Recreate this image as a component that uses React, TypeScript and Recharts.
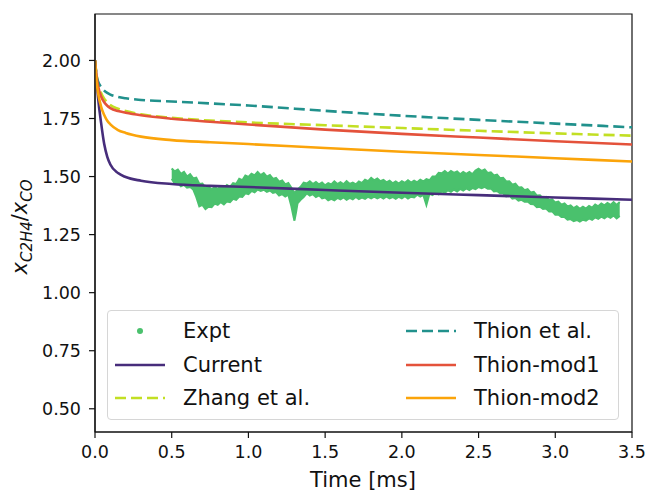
import React from "react";
import { ComposedChart, Line, Area, XAxis, YAxis, ReferenceArea } from "recharts";

// model curves share one time grid (ms)
const modelTime = [0, 0.01, 0.02, 0.04, 0.06, 0.08, 0.1, 0.15, 0.2, 0.3, 0.5, 0.75, 1.0, 1.5, 2.0, 2.5, 3.0, 3.5];
const current = [2.0, 1.92, 1.84, 1.73, 1.64, 1.585, 1.552, 1.515, 1.498, 1.482, 1.468, 1.46, 1.455, 1.442, 1.43, 1.42, 1.41, 1.4];
const zhang = [2.0, 1.94, 1.9, 1.86, 1.835, 1.82, 1.808, 1.792, 1.782, 1.768, 1.753, 1.741, 1.733, 1.721, 1.709, 1.697, 1.686, 1.676];
const thion = [2.0, 1.935, 1.91, 1.885, 1.87, 1.86, 1.853, 1.843, 1.837, 1.83, 1.823, 1.815, 1.806, 1.783, 1.762, 1.744, 1.728, 1.712];
const thionMod1 = [2.0, 1.93, 1.89, 1.845, 1.82, 1.805, 1.795, 1.782, 1.775, 1.764, 1.749, 1.736, 1.724, 1.702, 1.684, 1.668, 1.652, 1.638];
const thionMod2 = [2.0, 1.91, 1.86, 1.8, 1.765, 1.74, 1.725, 1.7, 1.688, 1.672, 1.657, 1.648, 1.64, 1.623, 1.607, 1.593, 1.579, 1.565];

const exptTime = [
  0.5, 0.52, 0.54, 0.56, 0.58, 0.6, 0.62, 0.64, 0.66, 0.68, 0.7, 0.72, 0.74, 0.76, 0.78, 0.8, 0.82, 0.84, 0.86, 0.88,
  0.9, 0.92, 0.94, 0.96, 0.98, 1.0, 1.02, 1.04, 1.06, 1.08, 1.1, 1.12, 1.14, 1.16, 1.18, 1.2, 1.22, 1.24, 1.26, 1.28,
  1.29, 1.3, 1.31, 1.32, 1.34, 1.36, 1.38, 1.4, 1.42, 1.44, 1.46, 1.48, 1.5, 1.52, 1.54, 1.56, 1.58, 1.6, 1.62, 1.64,
  1.66, 1.68, 1.7, 1.72, 1.74, 1.76, 1.78, 1.8, 1.82, 1.84, 1.86, 1.88, 1.9, 1.92, 1.94, 1.96, 1.98, 2.0, 2.02, 2.04,
  2.06, 2.08, 2.1, 2.12, 2.14, 2.16, 2.18, 2.2, 2.22, 2.24, 2.26, 2.28, 2.3, 2.32, 2.34, 2.36, 2.38, 2.4, 2.42, 2.44,
  2.46, 2.48, 2.5, 2.52, 2.54, 2.56, 2.58, 2.6, 2.62, 2.64, 2.66, 2.68, 2.7, 2.72, 2.74, 2.76, 2.78, 2.8, 2.82, 2.84,
  2.86, 2.88, 2.9, 2.92, 2.94, 2.96, 2.98, 3.0, 3.02, 3.04, 3.06, 3.08, 3.1, 3.12, 3.14, 3.16, 3.18, 3.2, 3.22, 3.24,
  3.26, 3.28, 3.3, 3.32, 3.34, 3.36, 3.38, 3.4, 3.42,
];
const exptHigh = [
  1.535, 1.522, 1.53, 1.512, 1.52, 1.5, 1.51, 1.492, 1.495, 1.468, 1.47, 1.45, 1.456, 1.444, 1.455, 1.446, 1.458, 1.45, 1.464, 1.456,
  1.472, 1.468, 1.49, 1.484, 1.504, 1.498, 1.512, 1.505, 1.52, 1.506, 1.515, 1.5, 1.507, 1.49, 1.494, 1.478, 1.483, 1.466, 1.472, 1.452,
  1.44, 1.43, 1.436, 1.445, 1.456, 1.474, 1.47, 1.48, 1.468, 1.477, 1.466, 1.474, 1.462, 1.472, 1.466, 1.479, 1.468, 1.476, 1.467, 1.48,
  1.468, 1.474, 1.466, 1.479, 1.472, 1.486, 1.48, 1.494, 1.484, 1.492, 1.48, 1.486, 1.475, 1.482, 1.471, 1.479, 1.47, 1.48, 1.473, 1.484,
  1.474, 1.482, 1.475, 1.486, 1.479, 1.489, 1.484, 1.5, 1.5, 1.516, 1.514, 1.524, 1.513, 1.524, 1.516, 1.522, 1.51, 1.52, 1.512, 1.52,
  1.51, 1.526, 1.534, 1.524, 1.53, 1.515, 1.518, 1.505, 1.508, 1.493, 1.495, 1.479, 1.48, 1.465, 1.469, 1.453, 1.454, 1.441, 1.446, 1.431,
  1.434, 1.418, 1.419, 1.406, 1.412, 1.398, 1.402, 1.388, 1.392, 1.379, 1.384, 1.371, 1.376, 1.364, 1.372, 1.361, 1.37, 1.362, 1.373, 1.366,
  1.38, 1.372, 1.384, 1.376, 1.386, 1.378, 1.39, 1.378, 1.39,
];
const exptLow = [
  1.49, 1.47, 1.472, 1.458, 1.464, 1.452, 1.455, 1.445, 1.412, 1.372, 1.378, 1.36, 1.37, 1.368, 1.384, 1.378, 1.39, 1.38, 1.393, 1.39,
  1.404, 1.4, 1.414, 1.412, 1.428, 1.424, 1.438, 1.432, 1.444, 1.438, 1.443, 1.434, 1.44, 1.43, 1.433, 1.418, 1.424, 1.414, 1.422, 1.372,
  1.34, 1.31, 1.345, 1.385, 1.4, 1.412, 1.428, 1.418, 1.424, 1.412, 1.419, 1.406, 1.41, 1.398, 1.404, 1.398, 1.408, 1.402, 1.41, 1.4,
  1.408, 1.402, 1.412, 1.403, 1.409, 1.404, 1.413, 1.406, 1.414, 1.406, 1.413, 1.405, 1.414, 1.406, 1.412, 1.404, 1.413, 1.406, 1.415, 1.405,
  1.413, 1.41, 1.422, 1.414, 1.421, 1.378, 1.426, 1.42, 1.43, 1.424, 1.436, 1.43, 1.441, 1.434, 1.444, 1.436, 1.447, 1.44, 1.449, 1.442,
  1.45, 1.446, 1.455, 1.45, 1.456, 1.448, 1.449, 1.436, 1.438, 1.428, 1.428, 1.415, 1.418, 1.405, 1.408, 1.396, 1.4, 1.392, 1.393, 1.382,
  1.381, 1.368, 1.37, 1.36, 1.362, 1.35, 1.35, 1.336, 1.337, 1.326, 1.326, 1.314, 1.317, 1.308, 1.313, 1.306, 1.314, 1.31, 1.32, 1.314,
  1.324, 1.318, 1.327, 1.32, 1.33, 1.322, 1.332, 1.32, 1.33,
];

const xTicks = [0, 0.5, 1.0, 1.5, 2.0, 2.5, 3.0, 3.5];
const yTicks = [0.5, 0.75, 1.0, 1.25, 1.5, 1.75, 2.0];

const C = {
  expt: "#4ac16d",
  current: "#472d7b",
  zhang: "#c2df23",
  thion: "#21918c",
  mod1: "#e4523b",
  mod2: "#fba40a",
};

const modelRows = modelTime.map((t, i) => ({
  t,
  current: current[i],
  zhang: zhang[i],
  thion: thion[i],
  mod1: thionMod1[i],
  mod2: thionMod2[i],
}));
const exptRows = exptTime.map((t, i) => ({ t, band: [exptLow[i], exptHigh[i]] }));

const FONT = "'DejaVu Sans', sans-serif";
const tickStyle = { fontSize: 17.5, fill: "#111", fontFamily: FONT };

const legendItems = [
  { name: "Expt", kind: "dot", color: C.expt, col: 0, row: 0 },
  { name: "Current", kind: "line", color: C.current, col: 0, row: 1 },
  { name: "Zhang et al.", kind: "dash", color: C.zhang, col: 0, row: 2 },
  { name: "Thion et al.", kind: "dash", color: C.thion, col: 1, row: 0 },
  { name: "Thion-mod1", kind: "line", color: C.mod1, col: 1, row: 1 },
  { name: "Thion-mod2", kind: "line", color: C.mod2, col: 1, row: 2 },
];

function Legend() {
  return (
    <div
      style={{
        position: "absolute", left: 107, top: 310, width: 512, height: 110,
        border: "1px solid #d6d6d6", borderRadius: 4, background: "rgba(255,255,255,0.8)",
        boxSizing: "border-box", fontFamily: FONT, fontSize: 21, color: "#111",
      }}
    >
      {legendItems.map((it) => {
        const left = it.col === 0 ? 7 : 298;
        const cy = 20 + it.row * 33.5;
        return (
          <div key={it.name} style={{ position: "absolute", left, top: cy - 14, height: 28, display: "flex", alignItems: "center" }}>
            <svg width={50} height={28} style={{ marginRight: 18 }}>
              {it.kind === "dot" && <circle cx={25} cy={14} r={3} fill={it.color} />}
              {it.kind === "line" && <line x1={0} x2={50} y1={14} y2={14} stroke={it.color} strokeWidth={2.6} />}
              {it.kind === "dash" && (
                <line x1={0} x2={50} y1={14} y2={14} stroke={it.color} strokeWidth={2.6} strokeDasharray="11 5" />
              )}
            </svg>
            <span style={{ whiteSpace: "nowrap" }}>{it.name}</span>
          </div>
        );
      })}
    </div>
  );
}

export default function App() {
  return (
    <div style={{ position: "absolute", left: 0, top: 0, width: 647, height: 493, background: "#fff" }}>
      <ComposedChart width={647} height={493} data={modelRows} margin={{ top: 14, right: 15, bottom: 0, left: 0 }}>
        <XAxis
          dataKey="t" type="number" domain={[0, 3.5]} ticks={xTicks} allowDataOverflow
          tickFormatter={(v: number) => v.toFixed(1)} tick={tickStyle}
          height={61} tickSize={6} tickMargin={8}
          stroke="#111" axisLine={{ stroke: "#111", strokeWidth: 1.2 }} tickLine={{ stroke: "#111", strokeWidth: 1.2 }}
          label={{
            content: () => (
              <text x={363} y={487} textAnchor="middle" fontSize={21} fontFamily={FONT} fill="#111">Time [ms]</text>
            ),
          }}
        />
        <YAxis
          type="number" domain={[0.4, 2.2]} ticks={yTicks} allowDataOverflow
          tickFormatter={(v: number) => v.toFixed(2)} tick={tickStyle}
          width={95} tickSize={6} tickMargin={8}
          stroke="#111" axisLine={{ stroke: "#111", strokeWidth: 1.2 }} tickLine={{ stroke: "#111", strokeWidth: 1.2 }}
          label={{
            content: () => (
              <text x={27} y={227} transform="rotate(-90 27 227)" textAnchor="middle" fontSize={21} fontFamily={FONT} fill="#111">
                <tspan fontStyle="italic">x</tspan>
                <tspan fontStyle="italic" fontSize={15} dy={5}>C2H4</tspan>
                <tspan dy={-5}>/</tspan>
                <tspan fontStyle="italic">x</tspan>
                <tspan fontStyle="italic" fontSize={15} dy={5}>CO</tspan>
              </text>
            ),
          }}
        />
        <ReferenceArea x1={0} x2={3.5} y1={0.4} y2={2.2} fill="none" fillOpacity={0} stroke="#111" strokeWidth={1.2} />

        <Area data={exptRows} dataKey="band" type="linear" stroke={C.expt} strokeWidth={2} fill={C.expt} fillOpacity={1} dot={false} activeDot={false} isAnimationActive={false} />
        <Line dataKey="current" type="monotone" stroke={C.current} strokeWidth={2.6} dot={false} isAnimationActive={false} />
        <Line dataKey="zhang" type="monotone" stroke={C.zhang} strokeWidth={2.6} strokeDasharray="11 5" dot={false} isAnimationActive={false} />
        <Line dataKey="thion" type="monotone" stroke={C.thion} strokeWidth={2.6} strokeDasharray="11 5" dot={false} isAnimationActive={false} />
        <Line dataKey="mod1" type="monotone" stroke={C.mod1} strokeWidth={2.6} dot={false} isAnimationActive={false} />
        <Line dataKey="mod2" type="monotone" stroke={C.mod2} strokeWidth={2.6} dot={false} isAnimationActive={false} />
      </ComposedChart>
      <Legend />
    </div>
  );
}
